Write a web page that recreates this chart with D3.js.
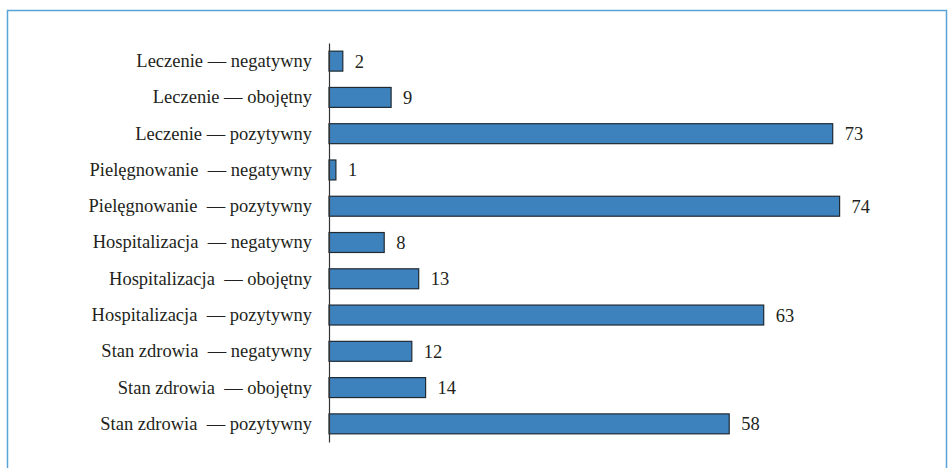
<!DOCTYPE html>
<html>
<head>
<meta charset="utf-8">
<script src="https://cdn.jsdelivr.net/npm/d3@7"></script>
<style>
  html, body { margin: 0; padding: 0; background: #fff; }
  svg { display: block; }
  text { white-space: pre; }
</style>
</head>
<body>
<svg id="chart" width="948" height="468"></svg>
<script>
// Category labels, top to bottom
const categories = [
  "Leczenie — negatywny",
  "Leczenie — obojętny",
  "Leczenie — pozytywny",
  "Pielęgnowanie  — negatywny",
  "Pielęgnowanie  — pozytywny",
  "Hospitalizacja  — negatywny",
  "Hospitalizacja  — obojętny",
  "Hospitalizacja  — pozytywny",
  "Stan zdrowia  — negatywny",
  "Stan zdrowia  — obojętny",
  "Stan zdrowia  — pozytywny"
];
// Number of responses per category
const values = [2, 9, 73, 1, 74, 8, 13, 63, 12, 14, 58];

const FONT = "'Liberation Serif', 'Times New Roman', Times, 'DejaVu Serif', serif";
const svg = d3.select("#chart");

// Outer frame
svg.append("rect")
  .attr("x", 7.5).attr("y", 10.5)
  .attr("width", 939).attr("height", 470)
  .attr("fill", "none")
  .attr("stroke", "#5aa3d6")
  .attr("stroke-width", 1.5);

const axisX = 329;
const x = d3.scaleLinear().domain([0, 80]).range([axisX, axisX + 552]);
const y = d3.scaleBand().domain(categories).range([43, 442]).paddingInner(0.45).paddingOuter(0.225);

const data = categories.map((c, i) => ({ c, v: values[i] }));

// Bars
svg.append("g").selectAll("rect").data(data).join("rect")
  .attr("x", x(0))
  .attr("y", d => y(d.c))
  .attr("width", d => x(d.v) - x(0))
  .attr("height", y.bandwidth())
  .attr("fill", "#3d82bd")
  .attr("stroke", "#1f2a33")
  .attr("stroke-width", 1.2);

// Category axis
const yAxis = d3.axisLeft(y).tickSize(0).tickPadding(17);
const gAxis = svg.append("g").attr("transform", `translate(${axisX},0)`).call(yAxis)
  .attr("font-family", FONT)
  .attr("font-size", 18.5);
gAxis.select(".domain").attr("stroke", "#333").attr("stroke-width", 1.2);
gAxis.selectAll("text")
  .style("font-family", FONT)
  .style("font-size", "18.5px")
  .attr("fill", "#231f20");

// Value labels
svg.append("g").selectAll("text").data(data).join("text")
  .attr("x", d => x(d.v) + 12)
  .attr("y", d => y(d.c) + y.bandwidth() / 2)
  .attr("dy", "0.35em")
  .style("font-family", FONT)
  .style("font-size", "18.5px")
  .attr("fill", "#231f20")
  .text(d => d.v);
</script>
</body>
</html>
